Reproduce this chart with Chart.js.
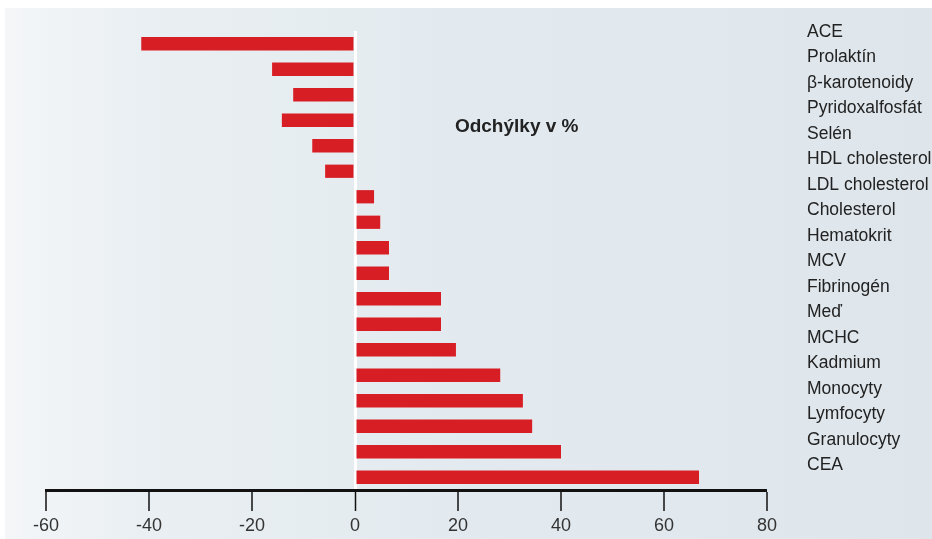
<!DOCTYPE html>
<html>
<head>
<meta charset="utf-8">
<script src="https://cdn.jsdelivr.net/npm/chart.js@4/dist/chart.umd.min.js"></script>
<style>
html,body{margin:0;padding:0;background:#fff;}
#wrap{width:932px;height:539px;}
</style>
</head>
<body>
<div id="wrap"><canvas id="c" width="932" height="539"></canvas></div>
<script>
const categories = ["ACE","Prolaktín","β-karotenoidy","Pyridoxalfosfát","Selén","HDL cholesterol","LDL cholesterol","Cholesterol","Hematokrit","MCV","Fibrinogén","Meď","MCHC","Kadmium","Monocyty","Lymfocyty","Granulocyty","CEA"];
const deviations = [-41.5,-16.1,-12,-14.2,-8.3,-5.8,3.7,4.9,6.6,6.6,16.7,16.7,19.6,28.2,32.6,34.4,40,66.8];
const xTicks = [-60,-40,-20,0,20,40,60,80];
const chartTitle = "Odchýlky v %";

const labelFont = "'Liberation Sans', Arial, sans-serif";

const bgPlugin = {
  id: 'bg',
  beforeDraw(chart) {
    const ctx = chart.ctx;
    const w = chart.width, h = chart.height;
    ctx.save();
    ctx.fillStyle = '#ffffff';
    ctx.fillRect(0, 0, w, h);
    const g = ctx.createLinearGradient(5, 0, w, 0);
    g.addColorStop(0, '#f4f6f8');
    g.addColorStop(0.15, '#e9eff2');
    g.addColorStop(0.5, '#e3eaef');
    g.addColorStop(1, '#dee6ec');
    ctx.fillStyle = g;
    ctx.fillRect(5, 8, w - 5, h - 8);
    ctx.restore();
  }
};

const titlePlugin = {
  id: 'innerTitle',
  afterDatasetsDraw(chart) {
    const ctx = chart.ctx;
    const xs = chart.scales.x, ys = chart.scales.y;
    ctx.save();
    ctx.font = "bold 19px 'Liberation Sans', Arial, sans-serif";
    ctx.fillStyle = '#222';
    ctx.textAlign = 'left';
    ctx.textBaseline = 'middle';
    ctx.fillText(chartTitle, xs.getPixelForValue(19.4), ys.getPixelForValue(3) + 6.5);
    ctx.restore();
  }
};

new Chart(document.getElementById('c'), {
  type: 'bar',
  data: {
    labels: categories,
    datasets: [{
      data: deviations,
      backgroundColor: '#d81e25',
      borderWidth: 0,
      barPercentage: 0.52,
      categoryPercentage: 1.0
    }]
  },
  options: {
    indexAxis: 'y',
    responsive: false,
    animation: false,
    devicePixelRatio: 1,
    layout: { padding: { top: 31, left: 0, right: 0, bottom: 0 } },
    plugins: { legend: { display: false }, tooltip: { enabled: false } },
    scales: {
      x: {
        type: 'linear',
        min: -60,
        max: 80,
        afterBuildTicks(scale) { scale.ticks = xTicks.map(v => ({ value: v })); },
        afterFit(scale) { scale.height = 49; scale.paddingLeft = 46; },
        border: { display: true, color: '#111', width: 3 },
        grid: {
          drawOnChartArea: true,
          color: (c) => (c.tick && c.tick.value === 0) ? '#ffffff' : 'rgba(0,0,0,0)',
          lineWidth: (c) => (c.tick && c.tick.value === 0) ? 3 : 0,
          tickColor: '#111',
          tickWidth: 1.5,
          tickLength: 21,
          drawTicks: true
        },
        ticks: {
          color: '#333',
          font: { family: labelFont, size: 18 },
          padding: 4,
          maxRotation: 0,
          autoSkip: false
        }
      },
      y: {
        position: 'right',
        offset: true,
        afterFit(scale) { scale.width = 165; scale.paddingTop = 0; scale.paddingBottom = 0; },
        border: { display: false },
        grid: { display: false, drawTicks: false },
        ticks: {
          color: '#222',
          font: { family: labelFont, size: 17.5 },
          padding: 40,
          labelOffset: -12,
          autoSkip: false
        }
      }
    }
  },
  plugins: [bgPlugin, titlePlugin]
});
</script>
</body>
</html>
